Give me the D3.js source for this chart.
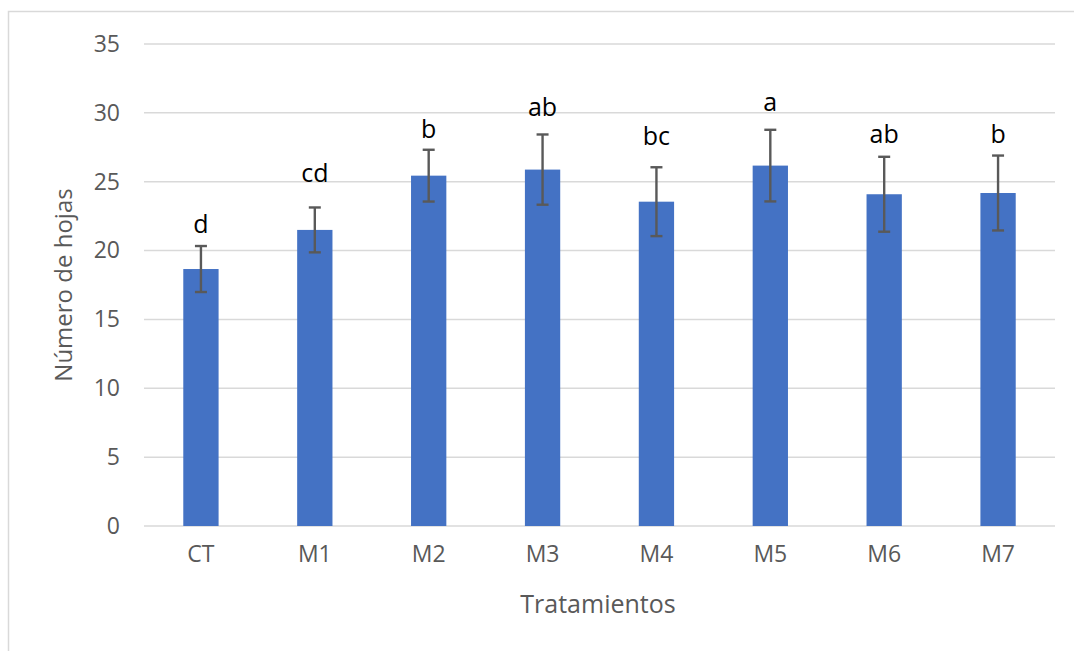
<!DOCTYPE html>
<html>
<head>
<meta charset="utf-8">
<script src="https://cdn.jsdelivr.net/npm/d3@7"></script>
<style>
  html, body { margin: 0; padding: 0; background: #ffffff; }
  svg { display: block; }
</style>
</head>
<body>
<svg id="chart" width="1074" height="651"></svg>
<script>
// ---- data ----
const categories = ["CT", "M1", "M2", "M3", "M4", "M5", "M6", "M7"];
const means      = [18.66, 21.5, 25.44, 25.88, 23.55, 26.17, 24.09, 24.18];
const errors     = [1.67, 1.63, 1.88, 2.55, 2.5, 2.6, 2.72, 2.72];
const letters    = ["d", "cd", "b", "ab", "bc", "a", "ab", "b"];
const letterY    = [21.3, 25.0, 28.15, 29.8, 27.7, 30.1, 27.8, 27.8];
const yTicks     = [0, 5, 10, 15, 20, 25, 30, 35];
const xTitle     = "Tratamientos";
const yTitle     = "Número de hojas";

// ---- layout ----
const svg = d3.select("#chart");
const pLeft = 144, pRight = 1055, pTop = 44, pBottom = 526;
const font = "'Open Sans', 'Noto Sans', sans-serif";

// chart frame
svg.append("rect")
  .attr("x", 8.5).attr("y", 11.5)
  .attr("width", 1200).attr("height", 800)
  .attr("fill", "#ffffff")
  .attr("stroke", "#d9d9d9").attr("stroke-width", 1.5);

const x = d3.scaleBand().domain(categories).range([pLeft, pRight])
  .paddingInner(0.69).paddingOuter(0.345);
const y = d3.scaleLinear().domain([0, 35]).range([pBottom, pTop]);

// gridlines
svg.append("g").selectAll("line").data(yTicks).join("line")
  .attr("x1", pLeft).attr("x2", pRight)
  .attr("y1", d => y(d)).attr("y2", d => y(d))
  .attr("stroke", "#d9d9d9").attr("stroke-width", 1.5);

// y axis labels
const yAxis = svg.append("g").attr("transform", `translate(${pLeft},0)`)
  .call(d3.axisLeft(y).tickValues(yTicks).tickSize(0).tickPadding(24));
yAxis.select(".domain").remove();
yAxis.selectAll("text")
  .attr("font-family", font).attr("font-size", 23).attr("fill", "#595959");

// x axis labels
const xAxis = svg.append("g").attr("transform", `translate(0,${pBottom})`)
  .call(d3.axisBottom(x).tickSize(0).tickPadding(20));
xAxis.select(".domain").remove();
xAxis.selectAll("text")
  .attr("font-family", font).attr("font-size", 23).attr("fill", "#595959");

// bars
const idx = d3.range(categories.length);
svg.append("g").selectAll("rect").data(idx).join("rect")
  .attr("x", i => x(categories[i]))
  .attr("width", x.bandwidth())
  .attr("y", i => y(means[i]))
  .attr("height", i => y(0) - y(means[i]))
  .attr("fill", "#4472c4");

// error bars
const eb = svg.append("g").attr("stroke", "#595959").attr("stroke-width", 2.4);
const cx = i => x(categories[i]) + x.bandwidth() / 2;
const capHalf = 6;
eb.selectAll("line.v").data(idx).join("line").attr("class", "v")
  .attr("x1", cx).attr("x2", cx)
  .attr("y1", i => y(means[i] + errors[i]))
  .attr("y2", i => y(means[i] - errors[i]));
eb.selectAll("line.t").data(idx).join("line").attr("class", "t")
  .attr("x1", i => cx(i) - capHalf).attr("x2", i => cx(i) + capHalf)
  .attr("y1", i => y(means[i] + errors[i]))
  .attr("y2", i => y(means[i] + errors[i]));
eb.selectAll("line.b").data(idx).join("line").attr("class", "b")
  .attr("x1", i => cx(i) - capHalf).attr("x2", i => cx(i) + capHalf)
  .attr("y1", i => y(means[i] - errors[i]))
  .attr("y2", i => y(means[i] - errors[i]));

// significance letters
svg.append("g").selectAll("text").data(idx).join("text")
  .attr("x", cx)
  .attr("y", i => y(letterY[i]))
  .attr("text-anchor", "middle")
  .attr("font-family", font).attr("font-size", 25)
  .attr("fill", "#000000")
  .text(i => letters[i]);

// axis titles
svg.append("text")
  .attr("x", 598).attr("y", 613)
  .attr("text-anchor", "middle")
  .attr("font-family", font).attr("font-size", 25).attr("fill", "#595959")
  .text(xTitle);

svg.append("text")
  .attr("transform", `translate(72,285) rotate(-90)`)
  .attr("text-anchor", "middle")
  .attr("font-family", font).attr("font-size", 24).attr("fill", "#595959")
  .text(yTitle);
</script>
</body>
</html>
